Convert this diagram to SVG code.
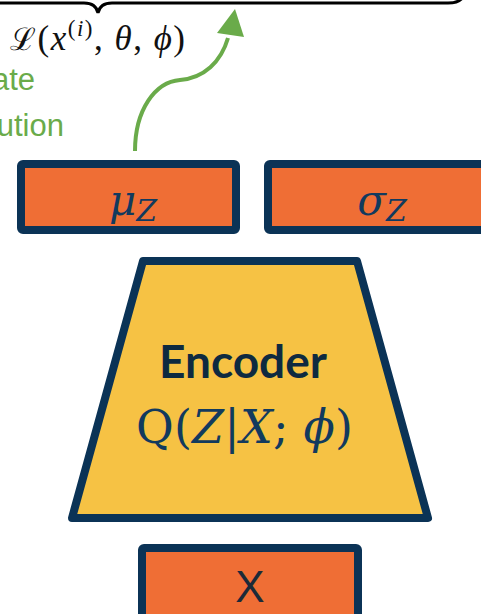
<svg xmlns="http://www.w3.org/2000/svg" width="481" height="614" viewBox="0 0 481 614">
<style>
.box{fill:#EF6E35;stroke:#0B3356;stroke-width:8;}
.math{font-family:"DejaVu Serif","Liberation Serif",serif;fill:#123A5E;}
.green{font-family:"Liberation Sans",Arial,sans-serif;font-size:31px;fill:#6AAB4A;}
</style>
<rect width="481" height="614" fill="#ffffff"/>
<g id="brace">
<path d="M -5 3 L 84 3 Q 96 3 98 13 Q 100 3 112 3 L 448 3 Q 461 3 464 -5" fill="none" stroke="#000" stroke-width="3"/>
</g>
<g id="loss-label">
<text x="10" y="50" font-family="'Liberation Serif',serif" font-size="35" fill="#111" textLength="175" lengthAdjust="spacing"><tspan font-family="'DejaVu Serif',serif" font-size="31">ℒ</tspan>(<tspan font-style="italic">x</tspan><tspan font-size="23" dy="-14">(<tspan font-style="italic">i</tspan>)</tspan><tspan dy="14">, </tspan><tspan font-style="italic">θ</tspan>, <tspan font-style="italic">ϕ</tspan>)</text>
</g>
<g id="green-text">
<text class="green" x="35" y="90" text-anchor="end">ate</text>
<text class="green" x="64" y="136" text-anchor="end">ution</text>
</g>
<g id="connectors">
<path d="M 135 151 C 135 110 155 82 180 80 C 204 78 221 62 228 38" fill="none" stroke="#6AAB4A" stroke-width="4"/>
<polygon points="235,9 217,33 244,37" fill="#6AAB4A"/>
</g>
<g id="mu">
<rect class="box" x="21" y="164" width="215" height="66" rx="2"/>
<text class="math" x="133" y="215" text-anchor="middle" font-size="42" font-style="italic">μ<tspan font-size="30" dy="6">Z</tspan></text>
</g>
<g id="sigma">
<rect class="box" x="268" y="164" width="225" height="66" rx="2"/>
<text class="math" x="382" y="215" text-anchor="middle" font-size="42" font-style="italic">σ<tspan font-size="30" dy="6">Z</tspan></text>
</g>
<g id="encoder">
<polygon points="143,261 357,261 428,518 72,518" fill="#F6C244" stroke="#0B3356" stroke-width="8" stroke-linejoin="round"/>
<text x="243" y="378" text-anchor="middle" font-family="Lato,'Open Sans',sans-serif" font-weight="bold" font-size="46" fill="#0E2A40">Encoder</text>
<text class="math" x="136" y="443" font-size="46" textLength="217" lengthAdjust="spacing">Q(<tspan font-style="italic">Z</tspan>|<tspan font-style="italic">X</tspan>; <tspan font-style="italic">ϕ</tspan>)</text>
</g>
<g id="x-input">
<rect class="box" x="142" y="548" width="216" height="80" rx="2"/>
<text x="250" y="602" text-anchor="middle" font-family="'Liberation Sans',Arial,sans-serif" font-size="44" fill="#1B2A38">X</text>
</g>
</svg>
